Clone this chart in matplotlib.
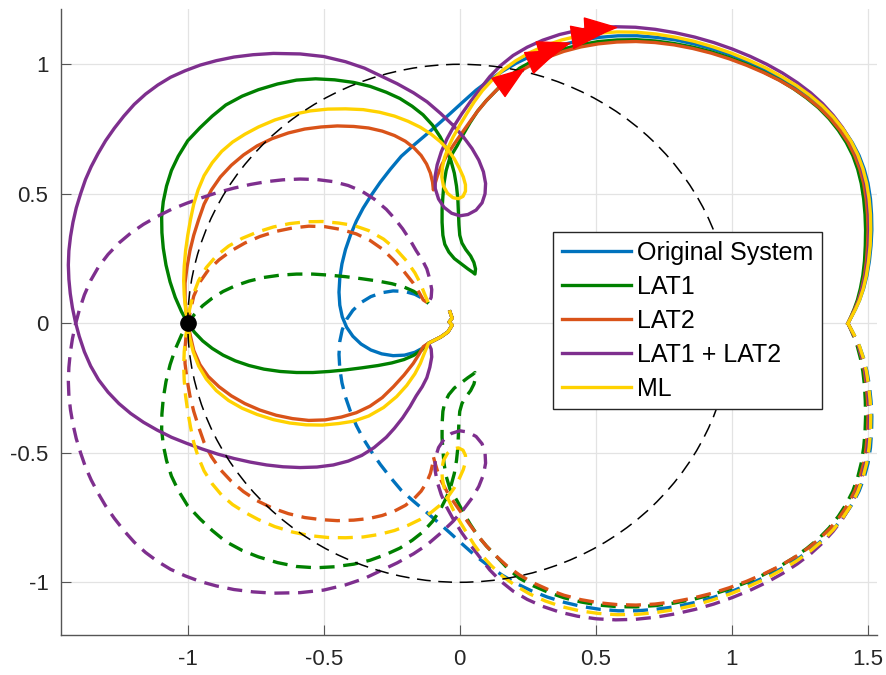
import numpy as np
import matplotlib.pyplot as plt
from matplotlib.patches import Circle
from matplotlib.markers import MarkerStyle
from matplotlib.path import Path
from matplotlib.transforms import Affine2D

plt.rcParams['font.family'] = ['Liberation Sans', 'DejaVu Sans']

# positive-frequency branch of each loop transfer function (Re, Im),
# from the low-frequency end at 1.43 to where the branches meet near the origin
orig_x = [1.427, 1.440, 1.455, 1.470, 1.485, 1.497, 1.506, 1.512, 1.515, 1.514, 1.510, 1.501,
          1.487, 1.468, 1.443, 1.413, 1.378, 1.338, 1.293, 1.243, 1.188, 1.128, 1.065, 1.000,
          0.933, 0.864, 0.794, 0.723, 0.652, 0.582, 0.513, 0.447, 0.383, 0.322, 0.264, 0.209,
          0.157, 0.108, 0.060, 0.012, -0.035, -0.080, -0.125, -0.170, -0.215, -0.255, -0.292,
          -0.325, -0.355, -0.380, -0.402, -0.420, -0.433, -0.441, -0.444, -0.441, -0.432,
          -0.416, -0.393, -0.363, -0.327, -0.287, -0.245, -0.203, -0.165, -0.135, -0.115]
orig_y = [0.000, 0.025, 0.055, 0.090, 0.135, 0.185, 0.240, 0.300, 0.360, 0.420, 0.480, 0.540,
          0.595, 0.648, 0.698, 0.745, 0.790, 0.832, 0.872, 0.909, 0.944, 0.977, 1.007, 1.035,
          1.058, 1.078, 1.094, 1.104, 1.110, 1.110, 1.104, 1.093, 1.077, 1.057, 1.033, 1.005,
          0.973, 0.938, 0.900, 0.855, 0.810, 0.768, 0.727, 0.687, 0.645, 0.595, 0.545,
          0.495, 0.445, 0.395, 0.340, 0.285, 0.230, 0.175, 0.120, 0.070, 0.025,
          -0.015, -0.050, -0.080, -0.103, -0.118, -0.125, -0.123, -0.112, -0.095, -0.077]

lat1_x = [1.427, 1.438, 1.450, 1.462, 1.473, 1.482, 1.488, 1.491, 1.492, 1.490, 1.485, 1.476,
          1.463, 1.445, 1.421, 1.392, 1.358, 1.319, 1.275, 1.227, 1.174, 1.116, 1.055, 0.991,
          0.925, 0.858, 0.789, 0.719, 0.649, 0.579, 0.511, 0.446, 0.384, 0.326, 0.271, 0.220,
          0.175, 0.135, 0.098, 0.066, 0.038, 0.013, -0.010, -0.036, -0.050, -0.058, -0.062,
          -0.065, -0.065, -0.062, -0.055, -0.040, -0.020, 0.005, 0.030, 0.048, 0.056, 0.058,
          0.052, 0.040, 0.022, 0.008, 0.000, -0.003, -0.005, -0.007, -0.012, -0.020, -0.033,
          -0.050, -0.072, -0.100, -0.135, -0.175, -0.220, -0.270, -0.330, -0.390, -0.460,
          -0.530, -0.600, -0.670, -0.740, -0.800, -0.860, -0.910, -0.955, -1.000, -1.035,
          -1.060, -1.078, -1.090, -1.096, -1.095, -1.090, -1.080, -1.065, -1.046, -1.023,
          -1.000, -0.975, -0.945, -0.910, -0.870, -0.825, -0.775, -0.720, -0.660, -0.600,
          -0.540, -0.480, -0.420, -0.360, -0.300, -0.250, -0.205, -0.170, -0.140, -0.115]
lat1_y = [0.000, 0.025, 0.055, 0.090, 0.135, 0.185, 0.240, 0.300, 0.360, 0.420, 0.480, 0.540,
          0.595, 0.648, 0.698, 0.745, 0.790, 0.832, 0.870, 0.906, 0.940, 0.971, 1.000, 1.026,
          1.048, 1.066, 1.080, 1.090, 1.095, 1.094, 1.088, 1.076, 1.060, 1.039, 1.014, 0.985,
          0.945, 0.900, 0.860, 0.820, 0.775, 0.730, 0.685, 0.640, 0.590, 0.540, 0.490,
          0.440, 0.390, 0.340, 0.305, 0.275, 0.250, 0.230, 0.210, 0.197, 0.190, 0.210,
          0.235, 0.260, 0.285, 0.310, 0.340, 0.380, 0.430, 0.480, 0.530, 0.580, 0.630,
          0.675, 0.720, 0.765, 0.805, 0.838, 0.868, 0.892, 0.915, 0.930, 0.940,
          0.944, 0.939, 0.924, 0.902, 0.877, 0.843, 0.800, 0.755, 0.705, 0.645,
          0.590, 0.530, 0.470, 0.410, 0.350, 0.290, 0.225, 0.160, 0.100, 0.045,
          0.000, -0.035, -0.068, -0.097, -0.123, -0.145, -0.163, -0.177, -0.186, -0.190,
          -0.190, -0.186, -0.180, -0.172, -0.163, -0.153, -0.140, -0.124, -0.103, -0.077]

lat2_x = [1.427, 1.439, 1.452, 1.466, 1.478, 1.488, 1.495, 1.499, 1.501, 1.499, 1.494, 1.485,
          1.471, 1.452, 1.428, 1.398, 1.363, 1.323, 1.278, 1.229, 1.175, 1.117, 1.055, 0.991,
          0.925, 0.857, 0.788, 0.718, 0.648, 0.578, 0.510, 0.445, 0.383, 0.325, 0.270, 0.220,
          0.175, 0.135, 0.098, 0.065, 0.035, 0.006, -0.022, -0.047, -0.067, -0.082, -0.092,
          -0.097, -0.100, -0.108, -0.122, -0.142, -0.168, -0.200, -0.240, -0.285, -0.335,
          -0.390, -0.450, -0.510, -0.570, -0.630, -0.690, -0.745, -0.795, -0.840, -0.880,
          -0.913, -0.940, -0.960, -0.978, -0.992, -1.003, -1.010, -1.010, -1.006, -1.000,
          -0.990, -0.978, -0.955, -0.925, -0.885, -0.840, -0.790, -0.735, -0.675, -0.615,
          -0.555, -0.495, -0.435, -0.380, -0.330, -0.285, -0.244, -0.205, -0.171, -0.150,
          -0.134, -0.115]
lat2_y = [0.000, 0.025, 0.055, 0.090, 0.135, 0.185, 0.240, 0.300, 0.360, 0.420, 0.480, 0.540,
          0.595, 0.648, 0.698, 0.745, 0.790, 0.832, 0.870, 0.905, 0.938, 0.968, 0.996, 1.021,
          1.043, 1.061, 1.075, 1.084, 1.088, 1.086, 1.079, 1.067, 1.050, 1.028, 1.002, 0.972,
          0.938, 0.900, 0.860, 0.818, 0.775, 0.732, 0.690, 0.650, 0.610, 0.570, 0.535,
          0.515, 0.545, 0.580, 0.615, 0.648, 0.677, 0.703, 0.725, 0.742, 0.754,
          0.760, 0.762, 0.758, 0.750, 0.735, 0.713, 0.685, 0.650, 0.610, 0.565,
          0.515, 0.460, 0.400, 0.340, 0.280, 0.215, 0.155, 0.095, 0.045, 0.000,
          -0.050, -0.105, -0.160, -0.205, -0.245, -0.280, -0.310, -0.335, -0.355, -0.368,
          -0.375, -0.373, -0.362, -0.345, -0.320, -0.287, -0.245, -0.200, -0.155, -0.120,
          -0.090, -0.077]

both_x = [1.427, 1.439, 1.453, 1.467, 1.480, 1.491, 1.499, 1.504, 1.506, 1.505, 1.500, 1.492,
          1.478, 1.460, 1.436, 1.407, 1.373, 1.334, 1.290, 1.241, 1.187, 1.129, 1.067, 1.002,
          0.934, 0.864, 0.792, 0.719, 0.646, 0.573, 0.502, 0.433, 0.367, 0.305, 0.248, 0.196,
          0.150, 0.110, 0.075, 0.040, 0.007, -0.022, -0.047, -0.068, -0.083, -0.091, -0.090,
          -0.078, -0.058, -0.030, 0.000, 0.030, 0.060, 0.082, 0.093, 0.095, 0.087, 0.070,
          0.045, 0.013, -0.025, -0.070, -0.120, -0.170, -0.230, -0.290, -0.350, -0.420,
          -0.500, -0.587, -0.685, -0.760, -0.830, -0.895, -0.954, -1.010, -1.063, -1.110,
          -1.155, -1.197, -1.235, -1.270, -1.302, -1.330, -1.355, -1.376, -1.394, -1.410,
          -1.422, -1.431, -1.437, -1.439, -1.437, -1.432, -1.424, -1.413, -1.399, -1.380,
          -1.357, -1.328, -1.293, -1.253, -1.210, -1.163, -1.113, -1.060, -1.005, -0.948,
          -0.890, -0.830, -0.770, -0.710, -0.650, -0.587, -0.525, -0.465, -0.410, -0.360,
          -0.315, -0.270, -0.240, -0.210, -0.183, -0.160, -0.138, -0.121, -0.110, -0.103,
          -0.105, -0.115]
both_y = [0.000, 0.025, 0.055, 0.090, 0.135, 0.185, 0.240, 0.300, 0.360, 0.420, 0.480, 0.540,
          0.598, 0.653, 0.706, 0.756, 0.803, 0.848, 0.890, 0.929, 0.966, 1.000, 1.031, 1.059,
          1.084, 1.105, 1.122, 1.135, 1.143, 1.145, 1.141, 1.131, 1.115, 1.093, 1.066, 1.034,
          0.995, 0.952, 0.905, 0.857, 0.808, 0.760, 0.712, 0.662, 0.612, 0.565, 0.520,
          0.480, 0.448, 0.425, 0.415, 0.420, 0.437, 0.465, 0.500, 0.540, 0.585, 0.630,
          0.675, 0.720, 0.765, 0.810, 0.855, 0.890, 0.925, 0.955, 0.985, 1.010,
          1.030, 1.040, 1.042, 1.037, 1.028, 1.014, 0.997, 0.975, 0.950, 0.920,
          0.885, 0.845, 0.800, 0.753, 0.705, 0.655, 0.605, 0.555, 0.500, 0.445,
          0.390, 0.335, 0.280, 0.225, 0.170, 0.115, 0.060, 0.005, -0.050, -0.110,
          -0.165, -0.218, -0.266, -0.310, -0.348, -0.382, -0.412, -0.440, -0.463, -0.485,
          -0.505, -0.522, -0.536, -0.547, -0.554, -0.557, -0.555, -0.547, -0.532, -0.510,
          -0.480, -0.440, -0.405, -0.365, -0.322, -0.280, -0.245, -0.210, -0.170, -0.130,
          -0.100, -0.077]

ml_x = [1.427, 1.440, 1.455, 1.470, 1.484, 1.495, 1.503, 1.509, 1.511, 1.510, 1.505, 1.496,
        1.482, 1.463, 1.439, 1.409, 1.374, 1.334, 1.289, 1.239, 1.184, 1.125, 1.062, 0.997,
        0.930, 0.861, 0.791, 0.720, 0.649, 0.578, 0.508, 0.440, 0.375, 0.314, 0.257, 0.205,
        0.158, 0.118, 0.083, 0.053, 0.026, 0.000, -0.024, -0.042, -0.056, -0.064, -0.066,
        -0.060, -0.045, -0.025, -0.005, 0.012, 0.021, 0.021, 0.013, -0.002, -0.020, -0.042,
        -0.070, -0.105, -0.145, -0.190, -0.240, -0.295, -0.355, -0.420, -0.485, -0.550,
        -0.615, -0.680, -0.740, -0.790, -0.835, -0.875, -0.910, -0.940, -0.962, -0.978,
        -0.990, -1.000, -1.008, -1.013, -1.015, -1.013, -1.008, -1.000, -0.993, -0.980,
        -0.960, -0.932, -0.895, -0.850, -0.800, -0.745, -0.685, -0.625, -0.565, -0.505,
        -0.445, -0.390, -0.335, -0.280, -0.232, -0.195, -0.165, -0.145, -0.130, -0.120,
        -0.115]
ml_y = [0.000, 0.025, 0.055, 0.090, 0.135, 0.185, 0.240, 0.300, 0.360, 0.420, 0.480, 0.540,
        0.597, 0.651, 0.702, 0.750, 0.796, 0.839, 0.879, 0.917, 0.952, 0.986, 1.016, 1.044,
        1.068, 1.089, 1.105, 1.117, 1.124, 1.125, 1.120, 1.110, 1.094, 1.072, 1.045, 1.013,
        0.977, 0.938, 0.898, 0.855, 0.810, 0.765, 0.720, 0.680, 0.640, 0.600, 0.565,
        0.530, 0.502, 0.485, 0.481, 0.490, 0.510, 0.535, 0.565, 0.600, 0.635, 0.668,
        0.700, 0.730, 0.757, 0.780, 0.800, 0.815, 0.825, 0.828, 0.827, 0.820,
        0.806, 0.785, 0.758, 0.730, 0.700, 0.664, 0.620, 0.570, 0.515, 0.460,
        0.400, 0.340, 0.280, 0.220, 0.165, 0.110, 0.055, 0.000, -0.055, -0.110,
        -0.165, -0.215, -0.260, -0.298, -0.328, -0.352, -0.372, -0.385, -0.392, -0.393,
        -0.387, -0.378, -0.358, -0.325, -0.283, -0.240, -0.195, -0.155, -0.115, -0.090,
        -0.077]

# high-frequency end, shared by all five
tail_x = [-0.115, -0.070, -0.043, -0.028, -0.039, -0.028, -0.036]
tail_y = [-0.077, -0.053, -0.033, -0.007, 0.005, 0.020, 0.044]

names = ['Original System', 'LAT1', 'LAT2', 'LAT1 + LAT2', 'ML']
colors = ['#0072BD', '#008000', '#D95319', '#7E2F8E', '#FFD200']
curves_x = [orig_x, lat1_x, lat2_x, both_x, ml_x]
curves_y = [orig_y, lat1_y, lat2_y, both_y, ml_y]
arrow_x = [0.34, 0.30, 0.18, 0.51, 0.46]

xticks = [-1, -0.5, 0, 0.5, 1, 1.5]
xtick_labels = ['-1', '-0.5', '0', '0.5', '1', '1.5']
yticks = [-1, -0.5, 0, 0.5, 1]
ytick_labels = ['-1', '-0.5', '0', '0.5', '1']

fig = plt.figure(figsize=(8.87, 6.75), dpi=100)
ax = fig.add_axes([61 / 887, 40 / 675, 816 / 887, 626 / 675])
ax.set_xlim(-1.466, 1.534)
ax.set_ylim(-1.2035, 1.2135)

ax.grid(True, color='#e3e3e3', lw=0.9)
ax.set_axisbelow(True)

for cx, cy, col, name in zip(curves_x, curves_y, colors, names):
    sx = np.array(cx + tail_x[1:])
    sy = np.array(cy + tail_y[1:])
    ax.plot(sx, sy, color=col, lw=2.4, label=name, solid_joinstyle='round')
    ax.plot(cx, -np.array(cy), color=col, lw=2.4, dashes=(4.5, 2.6))

ax.add_patch(Circle((0, 0), 1, fill=False, ec='black', lw=1.1, ls=(0, (9, 5)), zorder=5))
ax.plot(-1, 0, 'o', color='black', ms=11, zorder=6)

# direction arrows on the upper arc
tri = Path([(1, 0), (-0.75, 0.62), (-0.75, -0.62), (1, 0)],
           [Path.MOVETO, Path.LINETO, Path.LINETO, Path.CLOSEPOLY])
fig.canvas.draw()
for cx, cy, xa in zip(curves_x, curves_y, arrow_x):
    for i in range(len(cx) - 1):
        if cx[i] >= xa > cx[i + 1] and cy[i] > 0.8:
            t = (cx[i] - xa) / (cx[i] - cx[i + 1])
            ya = cy[i] + t * (cy[i + 1] - cy[i])
            p0 = ax.transData.transform((cx[i + 1], cy[i + 1]))
            p1 = ax.transData.transform((cx[i], cy[i]))
            ang = np.degrees(np.arctan2(p1[1] - p0[1], p1[0] - p0[0]))
            m = MarkerStyle(tri, transform=Affine2D().rotate_deg(ang))
            ax.plot(xa, ya, marker=m, ms=26, color='red', mec='red', zorder=7)
            break

ax.set_xticks(xticks)
ax.set_xticklabels(xtick_labels)
ax.set_yticks(yticks)
ax.set_yticklabels(ytick_labels)
ax.tick_params(direction='in', length=7, width=0.8, color='#555555',
               labelcolor='#262626', labelsize=16)
ax.tick_params(axis='x', pad=10)
ax.tick_params(axis='y', pad=9)
for side in ['top', 'right']:
    ax.spines[side].set_visible(False)
for side in ['left', 'bottom']:
    ax.spines[side].set_color('#555555')
    ax.spines[side].set_linewidth(1.0)

leg = ax.legend(loc='upper left', bbox_to_anchor=(0.603, 0.644), borderaxespad=0,
                fontsize=18, handlelength=2.75, handletextpad=0.25, labelspacing=0.40,
                borderpad=0.35, fancybox=False, framealpha=1, edgecolor='#262626')
leg.get_frame().set_linewidth(1.0)

fig.savefig('out.png', dpi=100)
